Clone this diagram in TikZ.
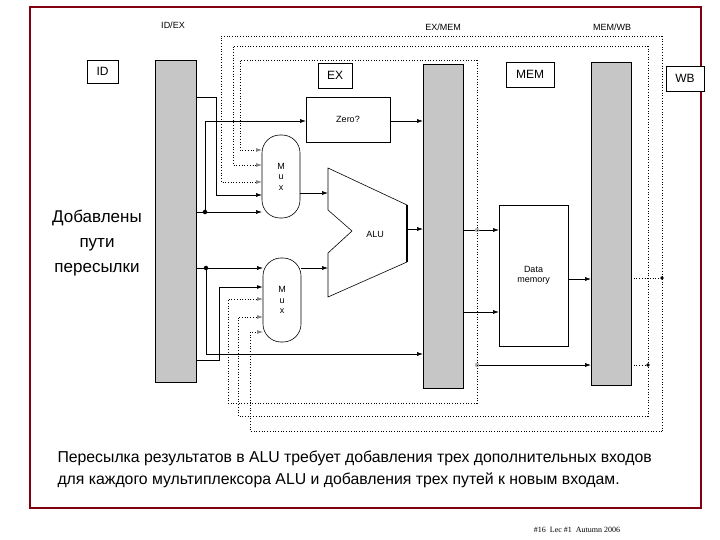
\documentclass[tikz,border=0pt]{standalone}
\usepackage{fontspec}
\setmainfont{Liberation Sans}
\newfontfamily\serifx{Liberation Serif}
\usetikzlibrary{arrows.meta}
\begin{document}
\begin{tikzpicture}[x=1pt,y=-1pt,
  reg/.style={draw,fill=gray!45,line width=0.8pt},
  lbl/.style={draw,line width=0.5pt,font=\fontsize{12}{13}\selectfont},
  wire/.style={line width=0.6pt,-{Latex[length=6pt,width=4pt]}},
  fwd/.style={dotted,line width=0.7pt,-{Latex[length=6pt,width=4pt,gray]}},
  fwdp/.style={dotted,line width=0.7pt},
  dotn/.style={circle,fill,inner sep=1.6pt},
  gdot/.style={circle,fill=gray!60,inner sep=1.6pt},
  small/.style={font=\fontsize{9}{10.5}\selectfont}]
\useasboundingbox (0,0) rectangle (720,540);
\fill[white] (0,0) rectangle (720,540);
\draw[line width=1.3pt,draw={rgb,255:red,128;green,0;blue,16}] (30,7) rectangle (701,508);
% registers
\node[reg,minimum width=41pt,minimum height=322pt,anchor=north west,inner sep=0] (idex) at (155,60) {};
\node[reg,minimum width=40pt,minimum height=324pt,anchor=north west,inner sep=0] (exmem) at (423,64) {};
\node[reg,minimum width=40pt,minimum height=323pt,anchor=north west,inner sep=0] (memwb) at (591,62) {};
\node[small] (tidex) at (173,25) {ID/EX};
\node[small] (texmem) at (443,27) {EX/MEM};
\node[small] (tmemwb) at (612,27) {MEM/WB};
\node[lbl,minimum width=31pt,minimum height=23pt] (id) at (102.5,71.5) {ID};
\node[lbl,minimum width=34pt,minimum height=25pt] (ex) at (335,75.5) {EX};
\node[lbl,minimum width=48pt,minimum height=25pt] (mem) at (530,74.5) {MEM};
\node[lbl,minimum width=38pt,minimum height=25pt,fill=white] (wb) at (685,78.5) {WB};
% boxes
\node[draw,line width=0.6pt,minimum width=84pt,minimum height=45pt,small] (zero) at (348,119.5) {Zero?};
\node[draw,line width=0.6pt,minimum width=69pt,minimum height=141pt,small,align=center] (dm) at (533.5,275.5) {Data\\memory};
\node[draw,line width=0.6pt,rounded corners=18pt,minimum width=38pt,minimum height=83pt,small,align=center] (mux1) at (281,176.5) {M\\u\\x};
\node[draw,line width=0.6pt,rounded corners=18pt,minimum width=38pt,minimum height=84pt,small,align=center] (mux2) at (282,300) {M\\u\\x};
\draw[line width=0.6pt] (328,168) -- (407,205) -- (407,262) -- (328,297) -- (328,253) -- (352,231) -- (328,210) -- cycle;
\draw[line width=1.4pt] (407,205) -- (407,262);
\node[small] (alu) at (375,234) {ALU};
% solid wires
\draw[wire] (196,97) -- (216,97) -- (216,195) -- (262,195);
\draw[wire] (196,212) -- (262,212);
\node[dotn] (d1) at (205,212) {};
\draw[wire] (d1) -- (205,121) -- (306,121);
\draw[wire] (300,193) -- (328,193);
\draw[wire] (390,121) -- (423,121);
\draw[wire] (407,229) -- (423,229);
\draw[wire] (463,230) -- (499,230);
\node[gdot] (g1) at (477,230) {};
\draw[wire] (196,268) -- (263,268);
\node[dotn] (d2) at (206,268) {};
\draw[wire] (d2) -- (206,354) -- (423,354);
\draw[wire,line width=1pt] (196,360) -- (219,360) -- (219,287) -- (263,287);
\draw[wire] (301,268) -- (328,268);
\draw[wire] (463,312) -- (499,312);
\draw[wire] (568,279) -- (591,279);
\node[gdot] (g2) at (477,365) {};
\draw[wire] (g2) -- (591,365);
% forwarding paths
\draw[fwdp] (477,60) -- (477,403);
\draw[fwd] (477,60) -- (240,60) -- (240,150) -- (262,150);
\draw[fwd] (477,403) -- (228,403) -- (228,299) -- (263,299);
\node[dotn,inner sep=1.4pt] (d3) at (648,365) {};
\draw[fwdp] (631,365) -- (d3);
\draw[fwdp] (648,46) -- (648,416);
\draw[fwd] (648,46) -- (233,46) -- (233,165) -- (262,165);
\draw[fwd] (648,416) -- (238,416) -- (238,317) -- (263,317);
\node[dotn,inner sep=1.4pt] (d4) at (662,278) {};
\draw[fwdp] (631,278) -- (d4);
\draw[fwdp] (662,36) -- (662,431);
\draw[fwd] (662,36) -- (221,36) -- (221,182) -- (262,182);
\draw[fwd] (662,431) -- (250,431) -- (250,332) -- (263,332);
% texts
\node[font=\fontsize{17}{25}\selectfont,align=center] (left) at (97,243) {Добавлены\\пути\\пересылки};
\node[font=\fontsize{15.8}{22}\selectfont,align=left,anchor=west] (bottom) at (54,469) {Пересылка результатов в ALU требует добавления трех дополнительных входов\\для каждого мультиплексора ALU и добавления трех путей к новым входам.};
\node[font=\serifx\fontsize{8}{9}\selectfont] (foot) at (577,530) {\#16~ Lec \#1 ~Autumn 2006};
\end{tikzpicture}
\end{document}
